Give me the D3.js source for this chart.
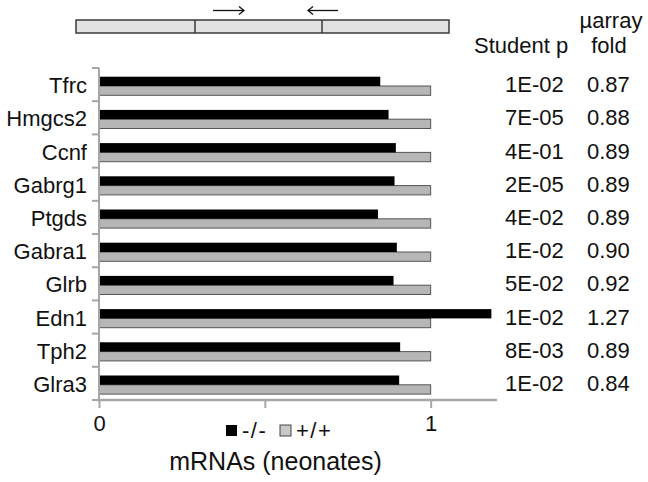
<!DOCTYPE html>
<html><head><meta charset="utf-8">
<script src="https://cdn.jsdelivr.net/npm/d3@7"></script>
<style>body{margin:0;background:#fff}svg{display:block}text{font-family:"Liberation Sans",Arial,sans-serif;fill:#111}</style>
</head><body><svg id="c" width="648" height="482"></svg>
<script>
const genes = ["Tfrc","Hmgcs2","Ccnf","Gabrg1","Ptgds","Gabra1","Glrb","Edn1","Tph2","Glra3"];
const koValues = [0.848,0.873,0.895,0.891,0.841,0.898,0.888,1.183,0.908,0.905];
const wtValues = [1,1,1,1,1,1,1,1,1,1];
const studentP = ["1E-02","7E-05","4E-01","2E-05","4E-02","1E-02","5E-02","1E-02","8E-03","1E-02"];
const arrayFold = ["0.87","0.88","0.89","0.89","0.89","0.90","0.92","1.27","0.89","0.84"];
const xTicks = [0,0.5,1];
const xTickLabels = ["0","","1"];
const seriesKeys = ["-/-","+/+"];

const svg = d3.select("#c");
const x = d3.scaleLinear().domain([0,1.2]).range([99,497]);
const y = d3.scaleBand().domain(genes).range([68,400]).padding(0);
const ySub = d3.scaleBand().domain(seriesKeys).range([8.7,27.3]).padding(0);
const colors = {"-/-":"#000","+/+":"#b6b6b6"};
const axisCol = "#a6a6a6";
const FS = "22px";

// gene diagram
svg.append("rect").attr("x",76).attr("y",20).attr("width",373).attr("height",13)
  .attr("fill","#e2e2e2").attr("stroke","#3a3a3a").attr("stroke-width",1.5);
[195,322].forEach(v=>svg.append("line").attr("x1",v).attr("x2",v).attr("y1",20).attr("y2",33)
  .attr("stroke","#3a3a3a").attr("stroke-width",1.5));
function arrow(x1,x2){
  const g = svg.append("g").attr("stroke","#111").attr("stroke-width",1.3).attr("fill","none");
  g.append("line").attr("x1",x1).attr("x2",x2).attr("y1",10.5).attr("y2",10.5);
  const d = x2 > x1 ? -5 : 5;
  g.append("path").attr("d",`M${x2+d},${6.5} L${x2},10.5 L${x2+d},14.5`);
}
arrow(213,244); arrow(338,308);

// bars
const rows = svg.append("g");
genes.forEach((g,i)=>{
  const vals = {"-/-":koValues[i],"+/+":wtValues[i]};
  seriesKeys.slice().reverse().forEach(k=>{
    rows.append("rect")
      .attr("x",x(0)).attr("y",y(g)+ySub(k))
      .attr("width",x(vals[k])-x(0)).attr("height",ySub.bandwidth())
      .attr("fill",colors[k])
      .attr("stroke",k==="+/+"?"#555":"none").attr("stroke-width",1);
  });
});

// y axis
const yAxisG = svg.append("g");
yAxisG.append("line").attr("x1",x(0)).attr("x2",x(0)).attr("y1",68).attr("y2",400)
  .attr("stroke",axisCol).attr("stroke-width",2);
const yTicksPos = genes.map(g=>y(g)).concat([400]);
yTicksPos.forEach(p=>yAxisG.append("line").attr("x1",x(0)-7).attr("x2",x(0)).attr("y1",p).attr("y2",p)
  .attr("stroke",axisCol).attr("stroke-width",2));

// x axis
const xAxis = d3.axisBottom(x).tickValues(xTicks).tickSize(8).tickFormat((d,i)=>xTickLabels[i]);
const xg = svg.append("g").attr("transform","translate(0,400)").call(xAxis);
xg.select(".domain").attr("stroke",axisCol).attr("stroke-width",2.5).attr("d",`M${x(0)-2},0H${x(1.2)}`);
xg.selectAll(".tick line").attr("stroke",axisCol).attr("stroke-width",2);
xg.selectAll(".tick text").attr("y",31).attr("dy",0).style("font-size",FS)
  .style("font-family","'Liberation Sans',Arial,sans-serif").attr("fill","#111");

// gene labels
genes.forEach(g=>{
  const cy = y(g)+y.bandwidth()/2;
  svg.append("text").attr("x",87).attr("y",cy+8.5).attr("text-anchor","end")
    .style("font-size",FS).text(g);
});
// right columns
genes.forEach((g,i)=>{
  const cy = y(g)+y.bandwidth()/2;
  svg.append("text").attr("x",505).attr("y",cy+7.5).style("font-size",FS).text(studentP[i]);
  svg.append("text").attr("x",587).attr("y",cy+7.5).style("font-size",FS).text(arrayFold[i]);
});
svg.append("text").attr("x",474).attr("y",53).style("font-size",FS).text("Student p");
svg.append("text").attr("x",611).attr("y",28).attr("text-anchor","middle").style("font-size",FS).text("µarray");
svg.append("text").attr("x",609).attr("y",53).attr("text-anchor","middle").style("font-size",FS).text("fold");

// legend
const legX = [226,280];
seriesKeys.forEach((k,i)=>{
  svg.append("rect").attr("x",legX[i]).attr("y",425).attr("width",11).attr("height",11)
    .attr("fill",k==="+/+"?"#c8c8c8":"#000").attr("stroke",k==="+/+"?"#444":"none").attr("stroke-width",1);
  svg.append("text").attr("x",legX[i]+16).attr("y",437.5).style("font-size",FS)
    .style("letter-spacing","1.5px").text(k);
});

// title
svg.append("text").attr("x",275.5).attr("y",470).attr("text-anchor","middle").style("font-size","25px").text("mRNAs (neonates)");
</script></body></html>
